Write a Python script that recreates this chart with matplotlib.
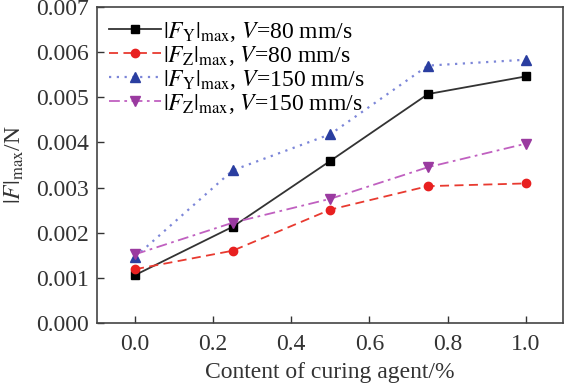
import matplotlib
matplotlib.use('Agg')
import matplotlib.pyplot as plt

plt.rcParams['font.family'] = 'Liberation Serif'
plt.rcParams['mathtext.fontset'] = 'stix'

content = [0.0, 0.25, 0.5, 0.75, 1.0]
fy_80 = [0.00106, 0.00213, 0.00359, 0.00507, 0.00546]
fz_80 = [0.00119, 0.00160, 0.00251, 0.00303, 0.00309]
fy_150 = [0.00146, 0.00338, 0.00418, 0.00570, 0.00583]
fz_150 = [0.00152, 0.00222, 0.00275, 0.00345, 0.00397]

fig = plt.figure(figsize=(5.65, 3.84), dpi=100)
ax = fig.add_axes([0.172, 0.159, 0.824, 0.823])

ax.plot(content, fy_80, color='#333333', ls='-', lw=1.3, marker='s', ms=6,
        mfc='black', mec='black', label=r'$|F_{\rm Y}|_{\rm max}$, $V$=80 mm/s')
ax.plot(content, fz_80, color='#e83a30', ls=(0, (5, 3)), lw=1.3, marker='o', ms=6,
        mfc='#e82020', mec='#e82020', label=r'$|F_{\rm Z}|_{\rm max}$, $V$=80 mm/s')
ax.plot(content, fy_150, color='#7c86d8', ls=(0, (1, 2.5)), lw=1.6, marker='^', ms=7,
        mfc='#2a3ea0', mec='#2a3ea0', label=r'$|F_{\rm Y}|_{\rm max}$, $V$=150 mm/s')
ax.plot(content, fz_150, color='#c060c0', ls=(0, (6, 2.5, 1.5, 2.5)), lw=1.3, marker='v', ms=7,
        mfc='#9a3aa0', mec='#9a3aa0', label=r'$|F_{\rm Z}|_{\rm max}$, $V$=150 mm/s')

ax.set_xlim(-0.097, 1.095)
ax.set_ylim(0, 0.007)
ax.set_xticks([0.0, 0.2, 0.4, 0.6, 0.8, 1.0])
ax.set_xticklabels(['0.0', '0.2', '0.4', '0.6', '0.8', '1.0'])
ax.set_yticks([0.000, 0.001, 0.002, 0.003, 0.004, 0.005, 0.006, 0.007])
ax.set_yticklabels(['0.000', '0.001', '0.002', '0.003', '0.004', '0.005', '0.006', '0.007'])
ax.tick_params(direction='in', labelsize=17, length=5, width=1, colors='#333333',
               labelcolor='#333333')
ax.tick_params(axis='x', pad=8)
ax.tick_params(axis='y', pad=6)
for s in ax.spines.values():
    s.set_color('#444444')
    s.set_linewidth(1.2)

ax.set_xlabel('Content of curing agent/%', fontsize=17, color='#333333', labelpad=5)
ax.set_ylabel(r'$|F|_{\rm max}$/N', fontsize=17, color='#333333')
ax.yaxis.set_label_coords(-0.152, 0.5)

ax.legend(loc='upper left', frameon=False, fontsize=17, handlelength=2.2,
          handletextpad=0.1, labelspacing=0.0, borderaxespad=0.0,
          bbox_to_anchor=(0.005, 0.99))

fig.savefig('out.png', dpi=100)
